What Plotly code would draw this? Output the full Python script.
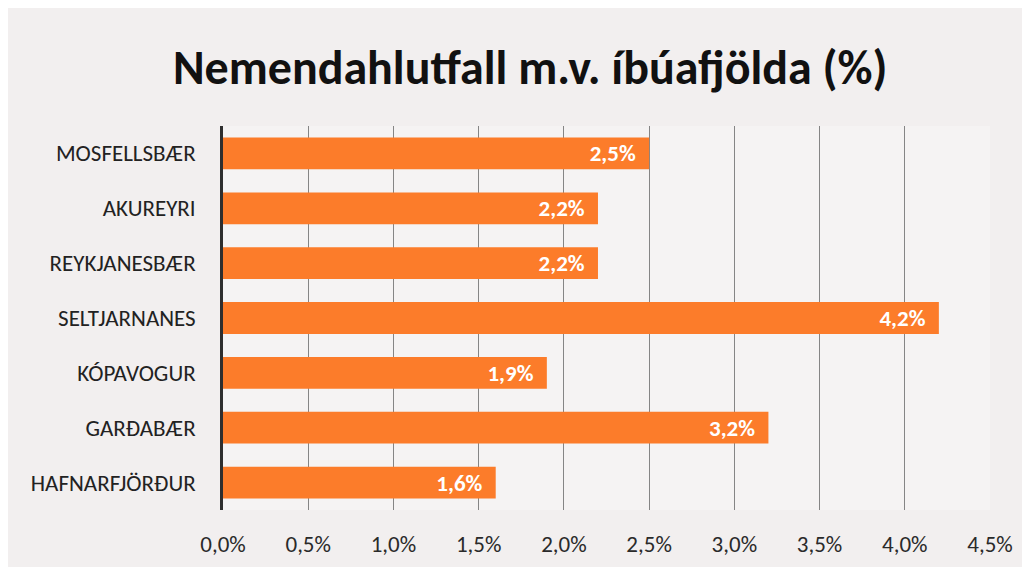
import plotly.graph_objects as go

categories = ["MOSFELLSBÆR", "AKUREYRI", "REYKJANESBÆR", "SELTJARNANES",
              "KÓPAVOGUR", "GARÐABÆR", "HAFNARFJÖRÐUR"]
values = [2.5, 2.2, 2.2, 4.2, 1.9, 3.2, 1.6]
bar_labels = ["2,5%", "2,2%", "2,2%", "4,2%", "1,9%", "3,2%", "1,6%"]
tick_values = [0, 0.5, 1.0, 1.5, 2.0, 2.5, 3.0, 3.5, 4.0, 4.5]
tick_labels = ["0,0%", "0,5%", "1,0%", "1,5%", "2,0%", "2,5%", "3,0%", "3,5%", "4,0%", "4,5%"]
title_text = "Nemendahlutfall m.v. íbúafjölda (%)"

FONT = "Carlito, Lato, 'Open Sans', sans-serif"

fig = go.Figure(go.Bar(
    x=values, y=categories, orientation="h",
    marker=dict(color="#fc7c2a", line=dict(width=0)),
    text=bar_labels, texttemplate="%{text}\u00a0\u00a0",
    textposition="inside", insidetextanchor="end", constraintext="none",
    textfont=dict(color="white", size=23, family=FONT, weight="bold"),
    cliponaxis=False,
))

fig.update_layout(
    width=1030, height=567,
    margin=dict(l=215, r=48, t=118, b=65),
    paper_bgcolor="#f2efef", plot_bgcolor="#f5f3f3",
    bargap=0.42,
    showlegend=False,
    title=dict(text=title_text, x=0.507, xanchor="center", y=0.896, yanchor="middle",
               font=dict(family=FONT, size=48, color="#111111", weight="bold")),
    font=dict(family=FONT, color="#222222"),
)
fig.update_xaxes(range=[0, 4.5], tickvals=tick_values, ticktext=tick_labels,
                 showgrid=True, gridcolor="#858585", gridwidth=1.2,
                 zeroline=False, showline=False,
                 tickfont=dict(size=23, color="#2a2a2a"), ticks="", ticklabelstandoff=18)
fig.update_yaxes(categoryorder="array", categoryarray=categories, autorange="reversed",
                 showline=True, linecolor="#2e2e2e", linewidth=2.5,
                 showgrid=False, ticks="", ticklabelstandoff=20,
                 tickfont=dict(size=23, color="#222222"))

fig.write_html("out.html")
